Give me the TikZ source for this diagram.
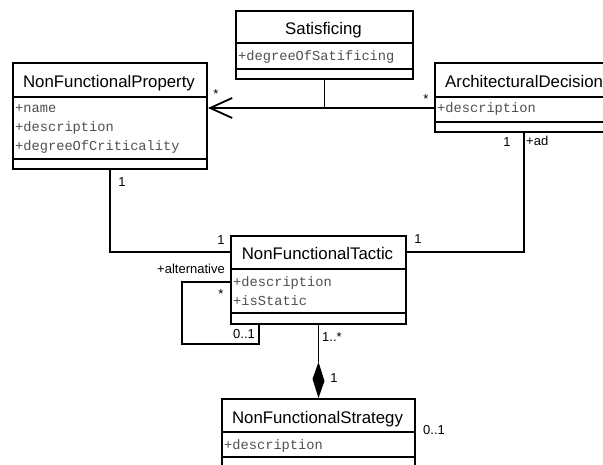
\documentclass[tikz,border=0pt]{standalone}
\usepackage{fontspec}
\setmainfont{Liberation Sans}
\newfontfamily\attrfont{Liberation Mono}
\usetikzlibrary{arrows.meta,calc}
\definecolor{attrgray}{HTML}{505050}
\begin{document}
\begin{tikzpicture}[x=1pt,y=-1pt,
 cls/.style={draw, line width=2pt, inner sep=0pt, anchor=north west, fill=white},
 ttl/.style={font=\fontsize{16.8}{18}\selectfont, anchor=base, inner sep=0pt},
 attr/.style={font=\attrfont\fontsize{13.7}{15}\selectfont, text=attrgray, anchor=base west, inner sep=0pt},
 lbl/.style={font=\fontsize{13}{14}\selectfont, inner sep=0pt},
 div/.style={line width=2pt},
 conn/.style={line width=1.8pt}]
\useasboundingbox (0,0) rectangle (603,465);

% class boxes
\node[cls, minimum width=177pt, minimum height=68pt] (sat) at (235,10) {};
\node[cls, minimum width=194pt, minimum height=106pt] (nfp) at (12,62) {};
\node[cls, minimum width=178pt, minimum height=69pt] (ad) at (434,62) {};
\node[cls, minimum width=175pt, minimum height=88pt] (nft) at (230,235) {};
\node[cls, minimum width=193pt, minimum height=82pt] (nfs) at (221,398) {};

\coordinate (nfpR) at (nfp.east |- 0,108);
\coordinate (adL) at (ad.west |- 0,108);
\coordinate (nftL) at (nft.west |- 0,252);
\coordinate (nftR) at (nft.east |- 0,252);
\coordinate (loopA) at (nft.west |- 0,282);
\coordinate (loopB) at (259,0 |- nft.south);

% connectors
\draw[conn, -{Straight Barb[length=22pt,width=20pt]}] (adL) -- (nfpR);
\draw[conn] (sat.south) -- (sat.south |- nfpR);
\draw[conn] (nfp.south) |- (nftL);
\draw[conn] (ad.south) |- (nftR);
\draw[conn] (loopA) -- (182,282) -- (182,344) -- (259,344) -- (loopB);
\coordinate (dTop) at ($(nft.south)+(0,37)$);
\draw[conn] (nft.south) -- (dTop);
\fill (dTop) -- ++(6,19) -- (nfs.north) -- ++(-6,-19) -- cycle;

% Satisficing
\draw[div] (sat.west |- 0,43) -- (sat.east |- 0,43);
\draw[div] (sat.west |- 0,69) -- (sat.east |- 0,69);
\node[ttl] (satT) at (323.5,35) {Satisficing};
\node[attr] (satA) at (238,61) {+degreeOfSatificing};

% NonFunctionalProperty
\draw[div] (nfp.west |- 0,97) -- (nfp.east |- 0,97);
\draw[div] (nfp.west |- 0,159) -- (nfp.east |- 0,159);
\node[ttl] (nfpT) at (109,88) {NonFunctionalProperty};
\node[attr] (nfpA1) at (15,113) {+name};
\node[attr] (nfpA2) at (15,132) {+description};
\node[attr] (nfpA3) at (15,151) {+degreeOfCriticality};

% ArchitecturalDecision
\draw[div] (ad.west |- 0,97) -- (ad.east |- 0,97);
\draw[div] (ad.west |- 0,122) -- (ad.east |- 0,122);
\node[ttl, anchor=base west] (adT) at (445,88) {ArchitecturalDecision};
\node[attr] (adA) at (437,113) {+description};

% NonFunctionalTactic
\draw[div] (nft.west |- 0,269) -- (nft.east |- 0,269);
\draw[div] (nft.west |- 0,313) -- (nft.east |- 0,313);
\node[ttl] (nftT) at (317.5,260) {NonFunctionalTactic};
\node[attr] (nftA1) at (233,287) {+description};
\node[attr] (nftA2) at (233,306) {+isStatic};

% NonFunctionalStrategy
\draw[div] (nfs.west |- 0,432) -- (nfs.east |- 0,432);
\draw[div] (nfs.west |- 0,457) -- (nfs.east |- 0,457);
\node[ttl] (nfsT) at (317.5,423) {NonFunctionalStrategy};
\node[attr] (nfsA) at (224,449) {+description};

% labels
\node[lbl] (l1) at (216,94) {*};
\node[lbl] (l2) at (426,99) {*};
\node[lbl] (l3) at (122,182) {1};
\node[lbl] (l4) at (507,142) {1};
\node[lbl, anchor=west] (l5) at (526,141) {+ad};
\node[lbl] (l6) at (221,240) {1};
\node[lbl] (l7) at (418,239) {1};
\node[lbl, anchor=east] (l8) at (225,269) {+alternative};
\node[lbl] (l9) at (221,294) {*};
\node[lbl] (l10) at (244,334) {0..1};
\node[lbl] (l11) at (332,337) {1..*};
\node[lbl] (l12) at (334,378) {1};
\node[lbl] (l13) at (434,430) {0..1};
\end{tikzpicture}
\end{document}
